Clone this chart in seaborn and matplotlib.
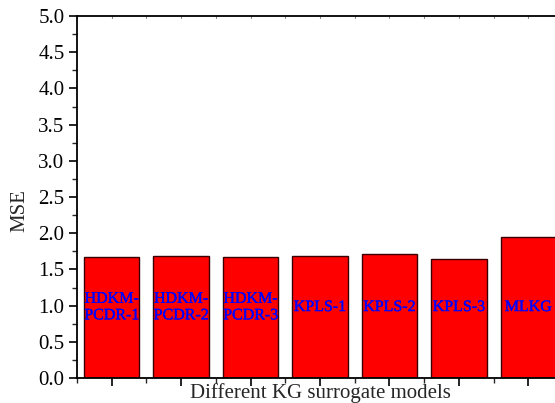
import matplotlib
matplotlib.use("Agg")
import matplotlib.pyplot as plt
import matplotlib.patheffects as pe
import seaborn as sns
import numpy as np
from matplotlib.ticker import MultipleLocator, FormatStrFormatter

models = ["HDKM-\nPCDR-1", "HDKM-\nPCDR-2", "HDKM-\nPCDR-3", "KPLS-1", "KPLS-2", "KPLS-3", "MLKG"]
mse = [1.675, 1.69, 1.67, 1.685, 1.71, 1.65, 1.95]

sns.set_style("ticks")
plt.rcParams['font.family'] = ['Liberation Serif', 'DejaVu Serif']

fig = plt.figure(figsize=(5.55, 4.03), dpi=100)
ax = fig.add_axes([77/555, (403-378)/403, 486/555, 362/403])

sns.barplot(x=list(range(len(models))), y=mse, color="#ff0000", saturation=1,
            edgecolor="#3a0000", linewidth=1.0, width=0.8, ax=ax, native_scale=True)

for i, (lab, v) in enumerate(zip(models, mse)):
    ax.text(i, 0.98, lab, ha="center", va="center", color="#0000ff",
            fontsize=11.5, linespacing=1.05,
            path_effects=[pe.withStroke(linewidth=0.25, foreground="#0000ff")])

ax.set_xlim(-0.5, 6.5)
ax.set_ylim(0, 5.0)
ax.yaxis.set_major_locator(MultipleLocator(0.5))
ax.yaxis.set_minor_locator(MultipleLocator(0.25))
ax.xaxis.set_major_locator(MultipleLocator(1))
ax.xaxis.set_minor_locator(MultipleLocator(0.5))
ax.set_xticklabels([])
ax.yaxis.set_major_formatter(FormatStrFormatter('%.1f'))

for s in ["left", "bottom", "top"]:
    ax.spines[s].set_linewidth(1.3)
    ax.spines[s].set_color("black")
ax.spines["right"].set_visible(False)

ax.tick_params(axis="both", which="major", direction="out", length=6, width=1.2,
               labelsize=15, pad=3, colors="black")
ax.tick_params(axis="both", which="minor", direction="out", length=3.5, width=1.0)
ax.tick_params(axis="x", which="both", top=False)

# tiny inward top ticks
for xv in np.arange(-0.5, 7.0, 0.5):
    ax.plot([xv, xv], [5.0, 4.97], color="#888888", lw=0.8, clip_on=True)

ax.set_ylabel("MSE", fontsize=15)
ax.yaxis.set_label_coords(-0.097, 0.463)
ax.set_xlabel("Different KG surrogate models", fontsize=15)
ax.xaxis.set_label_coords(0.5, -0.013)

fig.savefig("out.png", dpi=100)
